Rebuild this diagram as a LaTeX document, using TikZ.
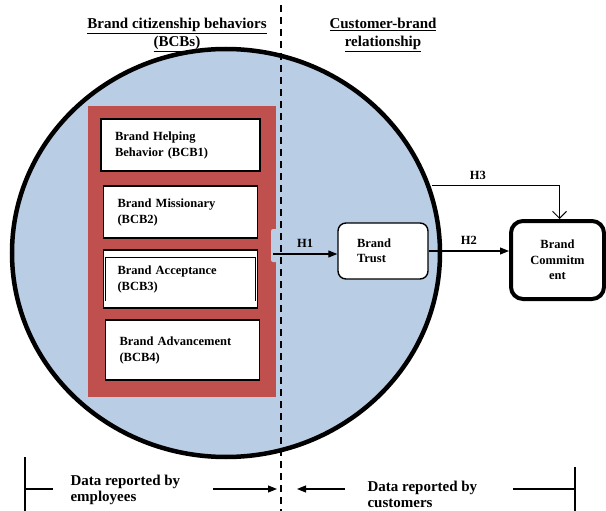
\documentclass[tikz,border=0pt]{standalone}
\usepackage{fontspec}
\setmainfont{Liberation Serif}
\usepackage{xcolor}
\usetikzlibrary{arrows.meta, calc, positioning}
\definecolor{circblue}{HTML}{B9CDE5}
\definecolor{bcbred}{HTML}{C0504D}

\begin{document}
\begin{tikzpicture}[x=1pt, y=-1pt,
  title/.style={align=center, font=\fontsize{15}{18}\selectfont\bfseries},
  bcbbox/.style={draw, fill=white, line width=1.8pt, align=left, inner xsep=14pt, text width=#1, font=\fontsize{12.5}{16}\selectfont\bfseries},
  trustbox/.style={draw, fill=white, line width=1.4pt, rounded corners=8pt, align=left, inner xsep=19pt, text width=52pt, minimum height=56pt, font=\fontsize{12.5}{15}\selectfont\bfseries},
  commitbox/.style={draw, fill=white, line width=4pt, rounded corners=12pt, align=center, minimum width=93pt, minimum height=78pt, font=\fontsize{12.5}{15.5}\selectfont\bfseries},
  hlabel/.style={font=\fontsize{12.5}{15}\selectfont\bfseries},
  note/.style={align=left, anchor=west, font=\fontsize{15}{16}\selectfont\bfseries},
  link/.style={line width=1.1pt, -{Triangle[length=9pt,width=7pt]}}]
\useasboundingbox (0,0) rectangle (606,511);

% Big circle behind everything
\draw[fill=circblue, line width=4.5pt] (226,253) ellipse [x radius=214, y radius=204];

% Titles
\node[title] (bcbtitle) at (177,35) {\underline{Brand citizenship behaviors}\\\underline{(BCBs)}};
\node[title] (cbrtitle) at (383,35) {\underline{Customer-brand}\\\underline{relationship}};

% Red frame with the four BCBs
\node[fill=bcbred, minimum width=188pt, minimum height=291pt, inner sep=0pt] (frame) at (182,251.5) {};
\fill[circblue, rounded corners=2pt] (271,229) rectangle (278,262);
\node[bcbbox=131pt, minimum height=52pt] (bcb1) at (180.5,145) {Brand Helping\\Behavior (BCB1)};
\node[bcbbox=126pt, minimum height=52pt] (bcb2) at (180.5,212) {Brand Missionary\\(BCB2)};
\node[bcbbox=126pt, minimum height=58pt] (bcb3) at (180.5,279) {Brand Acceptance\\(BCB3)};
\node[bcbbox=126pt, minimum height=60pt] (bcb4) at (182.5,350) {Brand Advancement\\(BCB4)};
\draw[line width=0.5pt] ([shift={(3,-8)}]bcb3.south west) -- ([shift={(3,8)}]bcb3.north west)
  -- ([shift={(-3,8)}]bcb3.north east) -- ([shift={(-3,-8)}]bcb3.south east);

% Dividing line
\draw[dash pattern=on 7pt off 5pt, line width=1.5pt] (281,5) -- (281,511);

% Relationship boxes
\node[trustbox] (trust) at (383,251) {Brand\\Trust};
\node[commitbox] (commit) at (557.5,260) {Brand\\Commitm\\ent};

% Hypotheses
\coordinate (h1start) at (273,254);
\coordinate (h3start) at (432,185);
\draw[link] (h1start) -- (trust.west |- h1start) node[hlabel, midway, above=3pt] (h1) {H1};
\draw[link] (trust.east) -- (trust.east -| commit.west) node[hlabel, midway, above=3pt] (h2) {H2};
\draw[line width=1pt, -{Straight Barb[length=7pt,width=14pt]}] (h3start) -| ([xshift=2pt]commit.north)
  node[hlabel, pos=0.18, above=2pt] (h3) {H3};

% Who reported the data
\coordinate (divide) at (281,489);
\draw[line width=1.8pt] (25,457) -- (25,511);
\draw[line width=1.8pt] (25,489) -- (53,489);
\draw[line width=1.8pt] (575,467) -- (575,511);
\draw[line width=1.8pt] (513,489) -- (575,489);
\node[note] (empnote) at (67,490) {Data reported by\\employees};
\node[note] (custnote) at (364,494.5) {Data reported by\\customers};
\draw[link] (213,489) -- ([xshift=-4pt]divide);
\draw[link] (345,489) -- ([xshift=16pt]divide);
\end{tikzpicture}
\end{document}
